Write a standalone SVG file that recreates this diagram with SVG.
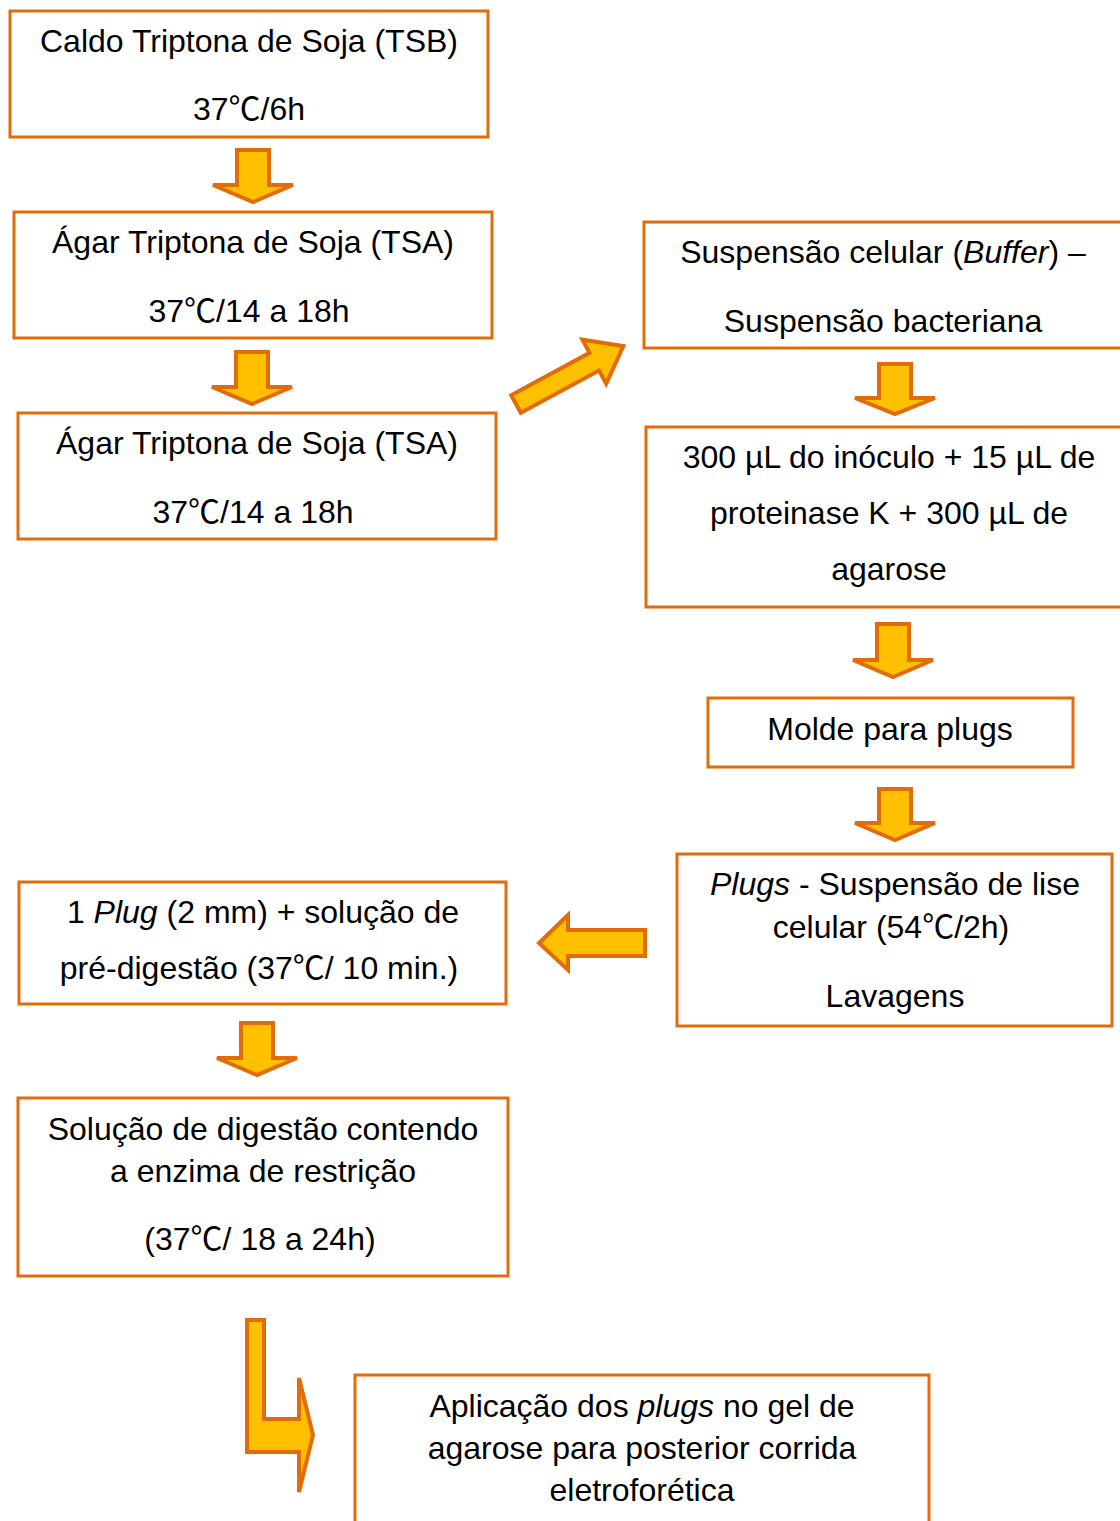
<svg xmlns="http://www.w3.org/2000/svg" width="1120" height="1521" viewBox="0 0 1120 1521">
<style>
.box{fill:#fff;stroke:#E36C0A;stroke-width:3}
.arr{fill:#FFC000;stroke:#E36C0A;stroke-width:4;stroke-linejoin:miter}
text{font-family:"Liberation Sans",Arial,"Noto Sans CJK SC",sans-serif;font-size:32px;fill:#000;text-anchor:middle}
.i{font-style:italic}
</style>
<rect width="1120" height="1521" fill="#fff"/>
<g id="connectors">
<polygon class="arr" points="237,150 269,150 269,185 293,185 253,202 213,185 237,185"/>
<polygon class="arr" points="236,352 268,352 268,387 292,387 252,404 212,387 236,387"/>
<polygon class="arr" points="879,364 911,364 911,398 935,398 895,414 855,398 879,398"/>
<polygon class="arr" points="877,624 909,624 909,660 933,660 893,677 853,660 877,660"/>
<polygon class="arr" points="879,789 911,789 911,823 935,823 895,840 855,823 879,823"/>
<polygon class="arr" points="241,1023 273,1023 273,1058 297,1058 257,1075 217,1058 241,1058"/>
<polygon class="arr" transform="translate(516,404) rotate(-28.4)" points="0,-10 89,-10 89,-25 122,0 89,25 89,10 0,10"/>
<polygon class="arr" points="645,930 645,956 568,956 568,970 539,943 568,915 568,930"/>
<polygon class="arr" points="247,1320 264,1320 264,1419 299,1419 299,1378 313,1435 299,1492 299,1452 247,1452"/>
</g>
<g id="n1"><rect class="box" x="10" y="11" width="478" height="126"/>
<text x="249" y="52">Caldo Triptona de Soja (TSB)</text><text x="249" y="120">37℃/6h</text></g>
<g id="n2"><rect class="box" x="14" y="212" width="478" height="126"/>
<text x="253" y="253">Ágar Triptona de Soja (TSA)</text><text x="249" y="322">37℃/14 a 18h</text></g>
<g id="n3"><rect class="box" x="18" y="413" width="478" height="126"/>
<text x="257" y="454">Ágar Triptona de Soja (TSA)</text><text x="253" y="523">37℃/14 a 18h</text></g>
<g id="n4"><rect class="box" x="644" y="222" width="480" height="126"/>
<text x="883" y="263">Suspensão celular (<tspan class="i">Buffer</tspan>) –</text><text x="883" y="332">Suspensão bacteriana</text></g>
<g id="n5"><rect class="box" x="646" y="427" width="486" height="180"/>
<text x="889" y="468">300 µL do inóculo + 15 µL de</text><text x="889" y="524">proteinase K + 300 µL de</text><text x="889" y="580">agarose</text></g>
<g id="n6"><rect class="box" x="708" y="698" width="365" height="69"/>
<text x="890" y="740">Molde para plugs</text></g>
<g id="n7"><rect class="box" x="677" y="854" width="435" height="172"/>
<text x="895" y="895"><tspan class="i">Plugs</tspan> - Suspensão de lise</text><text x="891" y="938">celular (54℃/2h)</text><text x="895" y="1007">Lavagens</text></g>
<g id="n8"><rect class="box" x="19" y="882" width="487" height="122"/>
<text x="263" y="923">1 <tspan class="i">Plug</tspan> (2 mm) + solução de</text><text x="259" y="979">pré-digestão (37℃/ 10 min.)</text></g>
<g id="n9"><rect class="box" x="18" y="1098" width="490" height="178"/>
<text x="263" y="1140">Solução de digestão contendo</text><text x="263" y="1182">a enzima de restrição</text><text x="260" y="1250">(37℃/ 18 a 24h)</text></g>
<g id="n10"><rect class="box" x="355" y="1375" width="574" height="160"/>
<text x="642" y="1417">Aplicação dos <tspan class="i">plugs</tspan> no gel de</text><text x="642" y="1459">agarose para posterior corrida</text><text x="642" y="1501">eletroforética</text></g>
</svg>
